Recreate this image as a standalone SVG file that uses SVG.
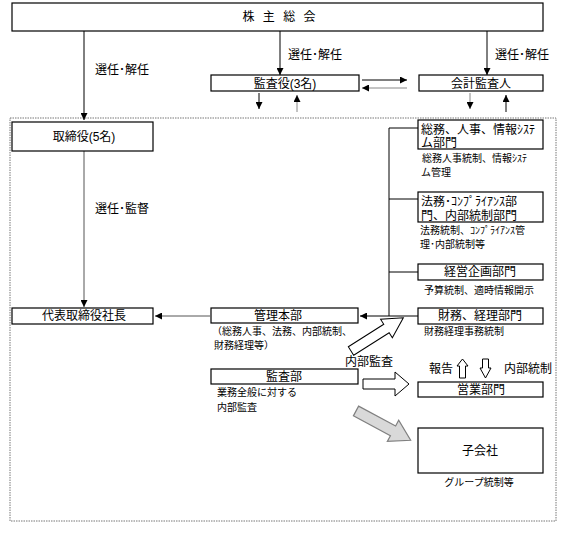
<svg xmlns="http://www.w3.org/2000/svg" width="567" height="553" viewBox="0 0 567 553">
<style>
text{font-family:"Liberation Sans","Noto Sans CJK JP",sans-serif;fill:#000}
.t12{font-size:12px}
.t10{font-size:10px}
.c{text-anchor:middle}
.box{fill:#fff;stroke:#000;stroke-width:1.2}
.ln{fill:none;stroke:#000;stroke-width:1}
.gl{fill:none;stroke:#888;stroke-width:1}
.ha{fill:#fff;stroke:#000;stroke-width:1}
</style>
<defs>
<marker id="ah" viewBox="0 0 8 8" refX="8" refY="4" markerWidth="7" markerHeight="7" orient="auto" markerUnits="userSpaceOnUse"><path d="M0,0 L8,4 L0,8 z" fill="#000"/></marker>
</defs>
<rect width="567" height="553" fill="#fff"/>

<rect id="outer" x="10" y="118" width="546" height="403" fill="none" stroke="#777" stroke-width="1" stroke-dasharray="1.5 1"/>

<g id="connectors">
<path class="ln" d="M84,31 V120" marker-end="url(#ah)"/>
<path class="ln" d="M280,31 V75" marker-end="url(#ah)"/>
<path class="ln" d="M487,31 V75" marker-end="url(#ah)"/>
<path class="ln" d="M362,80 H407" marker-end="url(#ah)"/>
<path class="gl" d="M407,88 H362" marker-end="url(#ah)"/>
<path class="ln" d="M259,93 V109" marker-end="url(#ah)"/>
<path class="gl" d="M297,112 V95" marker-end="url(#ah)"/>
<path class="gl" d="M470,93 V109" marker-end="url(#ah)"/>
<path class="ln" d="M506,112 V95" marker-end="url(#ah)"/>
<path class="gl" d="M84,151 V307" marker-end="url(#ah)" style="stroke:#555"/>
<path class="gl" d="M210,316 H155" marker-end="url(#ah)" style="stroke:#555"/>
<path class="ln" d="M389,316 H360" marker-end="url(#ah)"/>
<path class="ln" d="M389,128 V316 M389,128 H418 M389,199 H418 M389,272 H418 M389,316 H418"/>
<polygon class="ha" transform="translate(351,351) rotate(-32.4)" points="0,-5 42,-5 42,-11 62,0 42,11 42,5 0,5"/>
<polygon class="ha" points="363,379 395,379 395,372 409,384 395,396 395,389 363,389"/>
<polygon class="ha" points="462.5,359 468,366 465.5,366 465.5,378 459.5,378 459.5,366 457,366"/>
<polygon class="ha" points="485.5,378 491,368 488.5,368 488.5,359 482.5,359 482.5,368 480,368"/>
<polygon transform="translate(356,411) rotate(28.2)" points="0,-5.5 42,-5.5 42,-12 62,0 42,12 42,5.5 0,5.5" fill="#d9d9d9" stroke="#808080" stroke-width="1.2"/>
</g>

<g id="shareholders">
<rect class="box" x="12" y="3" width="531" height="28"/>
<text class="t12 c" x="279" y="21" word-spacing="5">株 主 総 会</text>
</g>
<g id="label-sel1"><text class="t12" x="95" y="74">選任･解任</text></g>
<g id="label-sel2"><text class="t12" x="288" y="59">選任･解任</text></g>
<g id="label-sel3"><text class="t12" x="495" y="59">選任･解任</text></g>

<g id="auditors">
<rect class="box" x="211" y="75" width="148" height="16"/>
<text class="t12 c" x="285" y="88">監査役(3名)</text>
</g>
<g id="accounting-auditor">
<rect class="box" x="419" y="75" width="124" height="16"/>
<text class="t12 c" x="481" y="88">会計監査人</text>
</g>

<g id="directors">
<rect class="box" x="12" y="122" width="141" height="29"/>
<text class="t12 c" x="84" y="141">取締役(5名)</text>
</g>
<g id="label-supervise"><text class="t12" x="95" y="213">選任･監督</text></g>

<g id="president">
<rect class="box" x="12" y="308" width="141" height="16"/>
<text class="t12 c" x="84" y="320">代表取締役社長</text>
</g>

<g id="admin-hq">
<rect class="box" x="211" y="308" width="147" height="15"/>
<text class="t12 c" x="278" y="320">管理本部</text>
<text class="t10" x="212" y="335">（総務人事、法務、内部統制、</text>
<text class="t10" x="214" y="349">財務経理等）</text>
</g>

<g id="audit-dept">
<rect class="box" x="211" y="369" width="147" height="15"/>
<text class="t12 c" x="284" y="381">監査部</text>
<text class="t10" x="217" y="396">業務全般に対する</text>
<text class="t10" x="217" y="411">内部監査</text>
</g>
<g id="label-internal-audit"><text class="t12" x="345" y="366">内部監査</text></g>

<g id="general-affairs">
<rect class="box" x="418" y="120" width="125" height="29"/>
<text class="t12" x="421" y="134">総務、人事、情報ｼｽﾃ</text>
<text class="t12" x="421" y="147">ム部門</text>
<text class="t10" x="422" y="162"> 総務人事統制、情報ｼｽﾃ</text>
<text class="t10" x="421" y="176">ム管理</text>
</g>

<g id="legal">
<rect class="box" x="418" y="192" width="125" height="30"/>
<text class="t12" x="421" y="206">法務･ｺﾝﾌﾟﾗｲｱﾝｽ部</text>
<text class="t12" x="421" y="220">門、内部統制部門</text>
<text class="t10" x="420" y="234">法務統制、ｺﾝﾌﾟﾗｲｱﾝｽ管</text>
<text class="t10" x="420" y="248">理･内部統制等</text>
</g>

<g id="planning">
<rect class="box" x="418" y="264" width="125" height="16"/>
<text class="t12 c" x="480" y="276">経営企画部門</text>
<text class="t10" x="424" y="294">予算統制、適時情報開示</text>
</g>

<g id="finance">
<rect class="box" x="418" y="308" width="125" height="16"/>
<text class="t12 c" x="480" y="320">財務、経理部門</text>
<text class="t10" x="424" y="335">財務経理事務統制</text>
</g>

<g id="label-report"><text class="t12" x="429" y="373">報告</text></g>
<g id="label-control"><text class="t12" x="504" y="373">内部統制</text></g>

<g id="sales">
<rect class="box" x="418" y="382" width="125" height="15"/>
<text class="t12 c" x="481" y="394">営業部門</text>
</g>

<g id="subsidiary">
<rect class="box" x="418" y="428" width="125" height="45"/>
<text class="t12 c" x="480" y="455">子会社</text>
<text class="t10 c" x="479" y="486">グループ統制等</text>
</g>
</svg>
